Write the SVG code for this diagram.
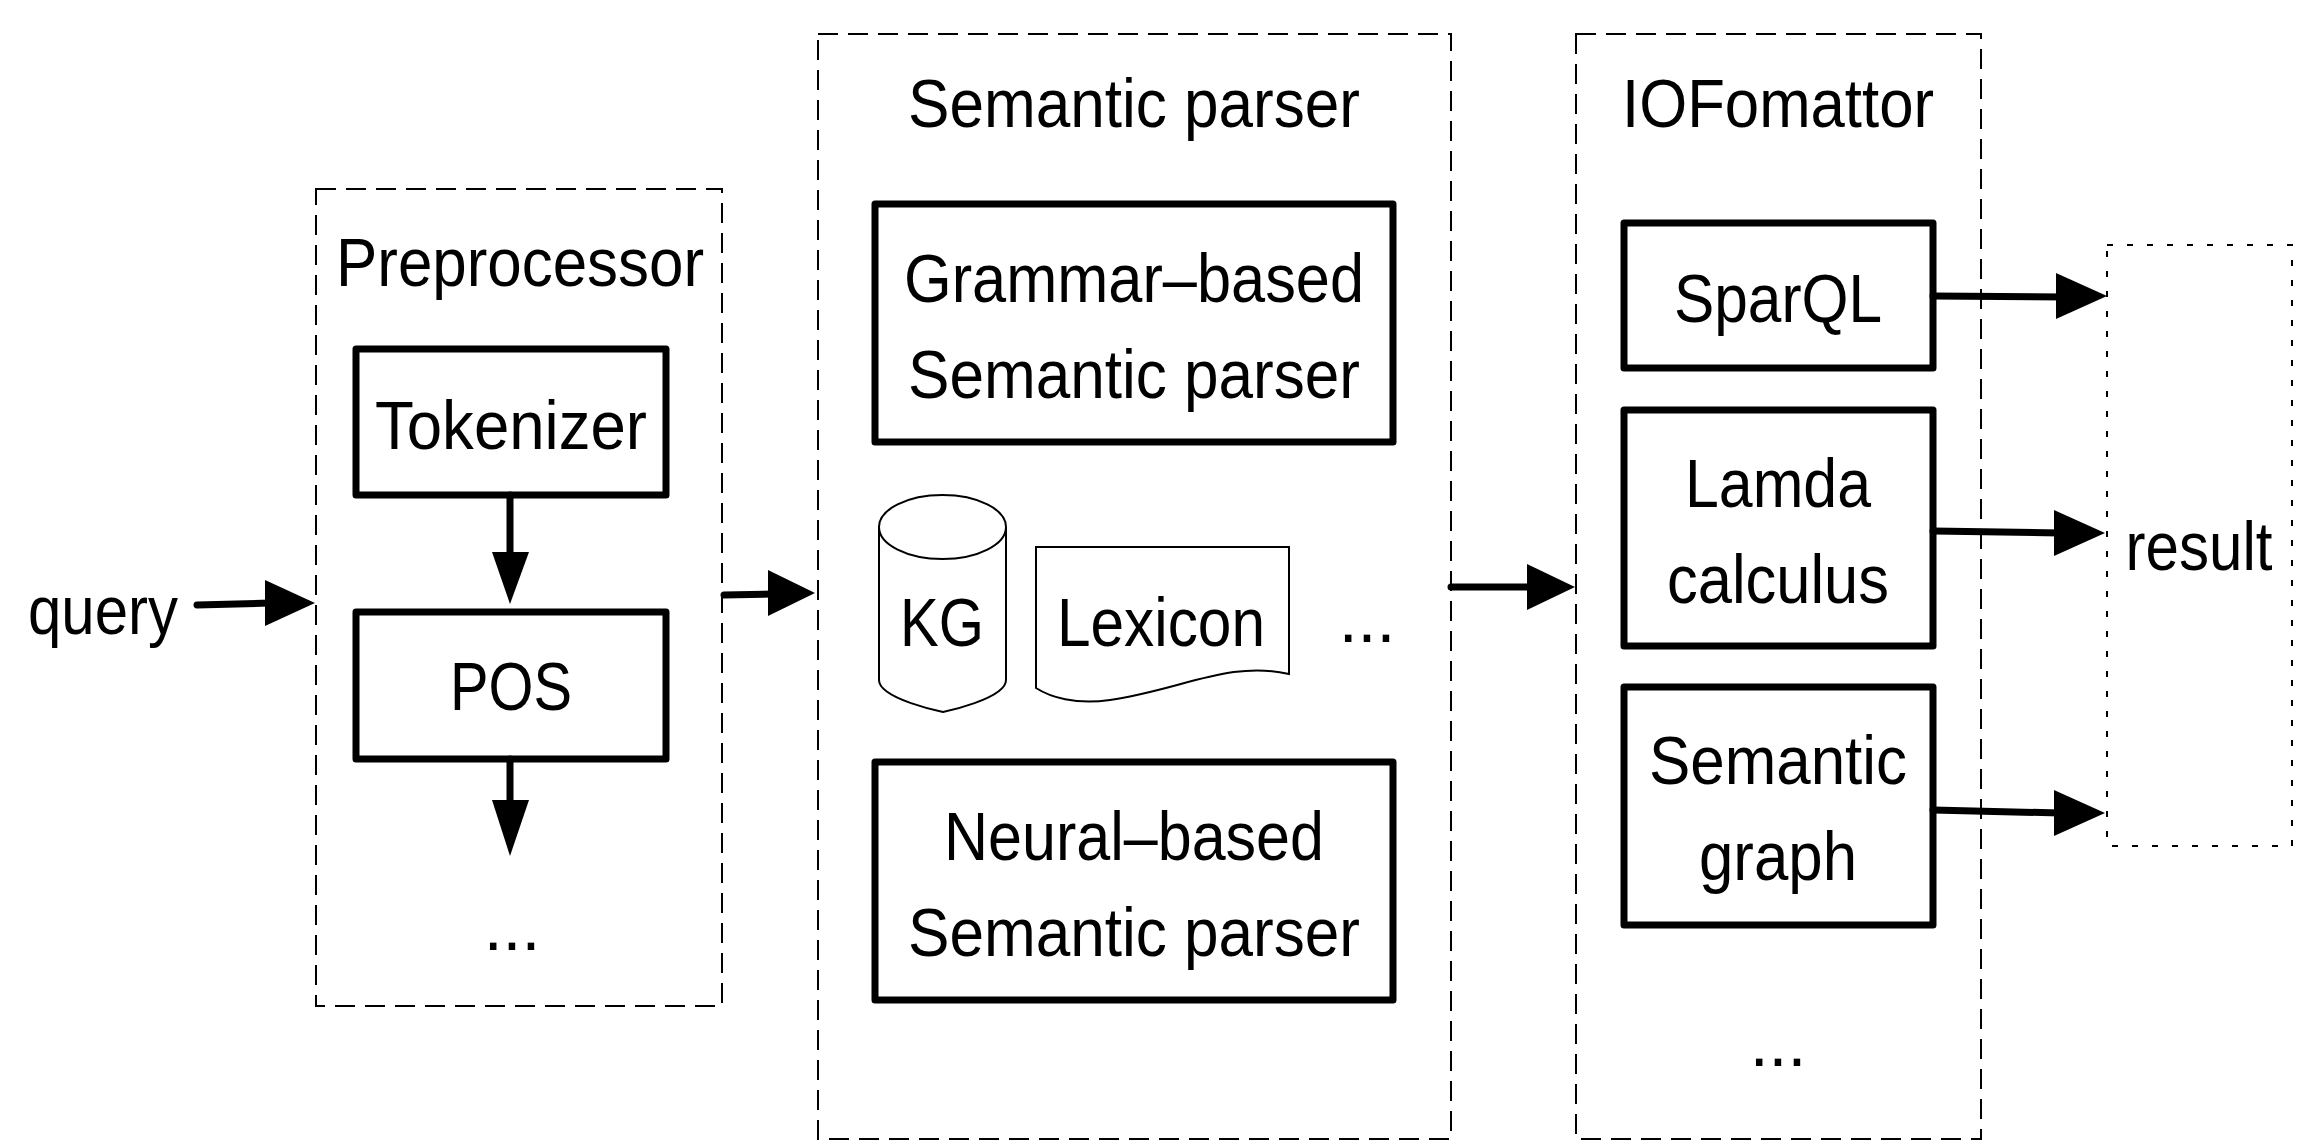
<svg xmlns="http://www.w3.org/2000/svg" width="2302" height="1143" viewBox="0 0 2302 1143">
<style>
text{font-family:"Liberation Sans",Arial,sans-serif;font-size:68px;fill:#000;text-anchor:middle}
.dash{fill:none;stroke:#000;stroke-width:2;stroke-dasharray:20 10}
.dot{fill:none;stroke:#000;stroke-width:2;stroke-dasharray:6 14}
.box{fill:#fff;stroke:#000;stroke-width:7;stroke-linejoin:round}
.thin{fill:#fff;stroke:#000;stroke-width:2}
.edge{fill:none;stroke:#000;stroke-width:7;stroke-linecap:round}
.head{fill:#000;stroke:none}
</style>
<rect width="2302" height="1143" fill="#fff"/>
<g id="preprocessor"><rect class="dash" x="316" y="189" width="406" height="817"/><text x="520" y="286" textLength="368" lengthAdjust="spacingAndGlyphs">Preprocessor</text></g>
<g id="semantic-parser"><rect class="dash" x="818" y="34" width="633" height="1105"/><text x="1134" y="127" textLength="452" lengthAdjust="spacingAndGlyphs">Semantic parser</text></g>
<g id="iofomattor"><rect class="dash" x="1576" y="34" width="405" height="1105"/><text x="1778" y="127" textLength="312" lengthAdjust="spacingAndGlyphs">IOFomattor</text></g>
<g id="result"><rect class="dot" x="2107" y="245" width="185" height="601"/><text x="2199" y="570" textLength="147" lengthAdjust="spacingAndGlyphs">result</text></g>
<g id="query"><text x="103" y="634" textLength="150" lengthAdjust="spacingAndGlyphs">query</text></g>
<g id="tokenizer"><rect class="box" x="356" y="349" width="310" height="146"/><text x="511" y="449" textLength="272" lengthAdjust="spacingAndGlyphs">Tokenizer</text></g>
<g id="pos"><rect class="box" x="356" y="612" width="310" height="147"/><text x="511" y="710" textLength="122" lengthAdjust="spacingAndGlyphs">POS</text></g>
<g id="prep-dots"><text x="512" y="950">...</text></g>
<g id="grammar"><rect class="box" x="875" y="204" width="518" height="238"/><text x="1134" y="302" textLength="460" lengthAdjust="spacingAndGlyphs">Grammar–based</text><text x="1134" y="398" textLength="452" lengthAdjust="spacingAndGlyphs">Semantic parser</text></g>
<g id="kg"><path class="thin" d="M879 527V680C879 699 943 712 943 712S1006 699 1006 680V527"/><ellipse class="thin" cx="942.500" cy="527" rx="63.500" ry="32"/><text x="942" y="646" textLength="84" lengthAdjust="spacingAndGlyphs">KG</text></g>
<g id="lexicon"><path class="thin" d="M1036 547H1289V674C1230 660 1180 690 1110 700C1075 705 1050 697 1036 688Z"/><text x="1161" y="646" textLength="208" lengthAdjust="spacingAndGlyphs">Lexicon</text></g>
<g id="sp-dots"><text x="1367" y="642">...</text></g>
<g id="neural"><rect class="box" x="875" y="762" width="518" height="238"/><text x="1134" y="860" textLength="380" lengthAdjust="spacingAndGlyphs">Neural–based</text><text x="1134" y="956" textLength="452" lengthAdjust="spacingAndGlyphs">Semantic parser</text></g>
<g id="sparql"><rect class="box" x="1624" y="223" width="309" height="145"/><text x="1778" y="322" textLength="208" lengthAdjust="spacingAndGlyphs">SparQL</text></g>
<g id="lamda"><rect class="box" x="1624" y="410" width="309" height="236"/><text x="1778" y="507" textLength="186" lengthAdjust="spacingAndGlyphs">Lamda</text><text x="1778" y="603" textLength="222" lengthAdjust="spacingAndGlyphs">calculus</text></g>
<g id="semantic-graph"><rect class="box" x="1624" y="687" width="309" height="238"/><text x="1778" y="784" textLength="258" lengthAdjust="spacingAndGlyphs">Semantic</text><text x="1778" y="880" textLength="158" lengthAdjust="spacingAndGlyphs">graph</text></g>
<g id="iof-dots"><text x="1778" y="1066">...</text></g>
<g id="connectors">
<path class="edge" d="M197 605L270 603"/><path class="head" d="M265 580L315 603L265 626Z"/>
<path class="edge" d="M510 495V560"/><path class="head" d="M492 552H529L510 604Z"/>
<path class="edge" d="M510 759V805"/><path class="head" d="M492 800H529L510 856Z"/>
<path class="edge" d="M724 595L775 594"/><path class="head" d="M768 570L815 593L768 616Z"/>
<path class="edge" d="M1451 587H1530"/><path class="head" d="M1527 564L1575 587L1527 610Z"/>
<path class="edge" d="M1933 296L2065 297"/><path class="head" d="M2056 273L2107 296L2056 319Z"/>
<path class="edge" d="M1933 531L2060 533"/><path class="head" d="M2054 510L2105 533L2054 556Z"/>
<path class="edge" d="M1933 810L2060 813"/><path class="head" d="M2054 790L2105 813L2054 836Z"/>
</g>
</svg>
